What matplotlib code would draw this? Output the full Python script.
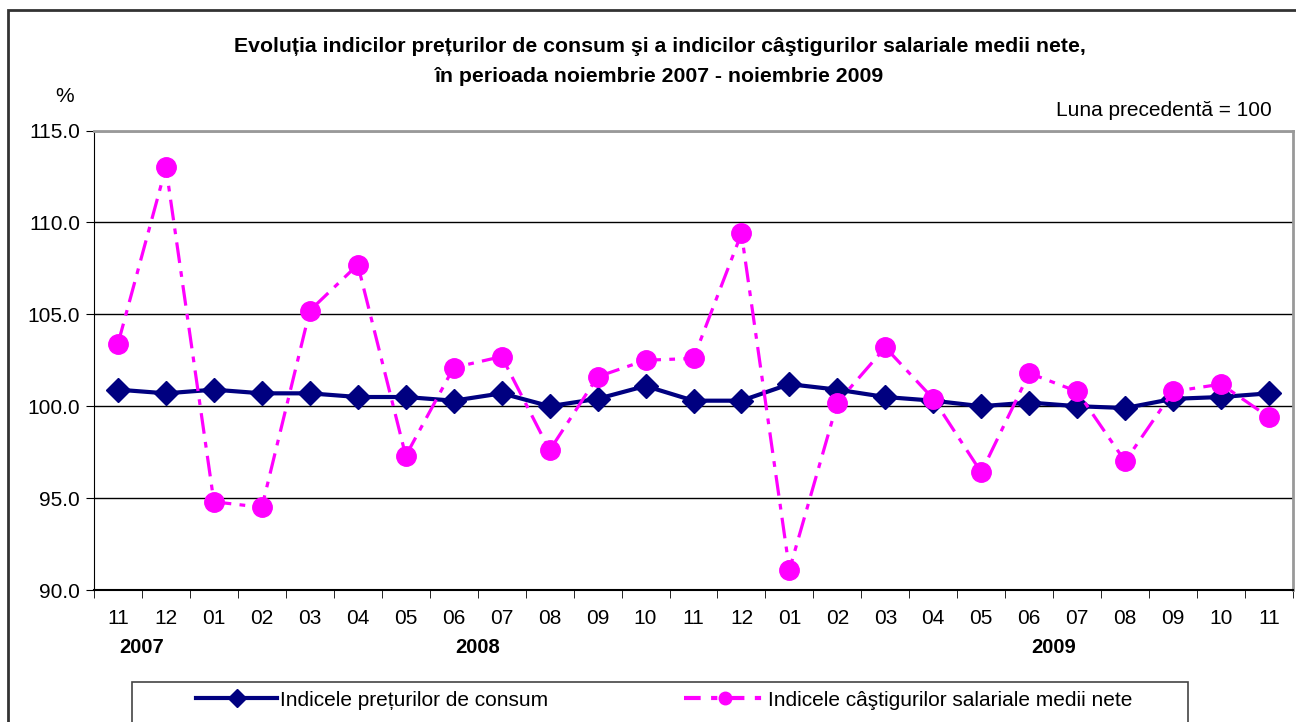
import numpy as np
import matplotlib.pyplot as plt
from matplotlib.patches import Rectangle
from matplotlib.lines import Line2D

plt.rcParams['font.family'] = ['Liberation Sans', 'DejaVu Sans']

# luni, noiembrie 2007 - noiembrie 2009
months = ['11', '12', '01', '02', '03', '04', '05', '06', '07', '08', '09', '10', '11',
          '12', '01', '02', '03', '04', '05', '06', '07', '08', '09', '10', '11']
years = ['2007', '2008', '2009']
year_pos = [0.5, 7.5, 19.5]

# indicele preturilor de consum
ipc = [100.9, 100.7, 100.9, 100.7, 100.7, 100.5, 100.5, 100.3, 100.7, 100.0, 100.4, 101.1, 100.3,
       100.3, 101.2, 100.9, 100.5, 100.3, 100.0, 100.2, 100.0, 99.9, 100.4, 100.5, 100.7]
# indicele castigurilor salariale medii nete
castig = [103.4, 113.0, 94.8, 94.5, 105.2, 107.7, 97.3, 102.1, 102.7, 97.6, 101.6, 102.5, 102.6,
          109.4, 91.1, 100.2, 103.2, 100.4, 96.4, 101.8, 100.8, 97.0, 100.8, 101.2, 99.4]

fig = plt.figure(figsize=(12.96, 7.22), dpi=100)
ax = fig.add_axes([94/1296, 1-590/722, 1199/1296, 459.5/722])

x = np.arange(len(months))
navy = '#000080'
mag = '#FF00FF'

ax.plot(x, ipc, color=navy, lw=3, marker='D', ms=12, mec=navy, zorder=3)
ax.plot(x, castig, color=mag, lw=2.3, dashes=(6.5, 2.6, 1.8, 2.6), marker='o', ms=14,
        mec=mag, zorder=4)

ax.set_xlim(-0.5, len(months) - 0.5)
ax.set_ylim(90, 115)
ax.set_yticks(np.arange(90, 115.1, 5))
ax.set_yticklabels(['%.1f' % v for v in np.arange(90, 115.1, 5)], fontsize=15)
ax.set_xticks(x)
ax.set_xticklabels(months, fontsize=15)
ax.set_xticks(np.arange(-0.5, len(months), 1), minor=True)
ax.tick_params(axis='x', which='major', length=0, pad=14)
ax.tick_params(axis='x', which='minor', length=6, direction='out', color='black')
ax.tick_params(axis='y', length=6, direction='out', pad=4)

ax.grid(axis='y', color='#000000', lw=1)
ax.set_axisbelow(True)
ax.spines['left'].set_color('black')
ax.spines['bottom'].set_color('black')
ax.spines['bottom'].set_linewidth(1.5)
ax.spines['top'].set_color('#999999')
ax.spines['right'].set_color('#999999')
ax.spines['top'].set_linewidth(2)
ax.spines['right'].set_linewidth(2)

for yr, p in zip(years, year_pos):
    ax.text(p, -0.125, yr, transform=ax.get_xaxis_transform(), ha='center', va='center',
            fontsize=14.5, fontweight='bold')

fig.text(660/1296, 1-47/722, 'Evoluția indicilor prețurilor de consum şi a indicilor câştigurilor salariale medii nete,',
         ha='center', va='center', fontsize=15.3, fontweight='bold')
fig.text(660/1296, 1-77/722, 'în perioada noiembrie 2007 - noiembrie 2009',
         ha='center', va='center', fontsize=15.3, fontweight='bold')
fig.text(65/1296, 1-97/722, '%', ha='center', va='center', fontsize=15)
fig.text(1272/1296, 1-110/722, 'Luna precedentă = 100', ha='right', va='center', fontsize=15)

# chenar exterior
fig.patches.append(Rectangle((8/1296, -0.1), 1.2, 1 - 10/722 + 0.1, transform=fig.transFigure,
                             fill=False, ec='#333333', lw=2))
# chenar legenda
fig.patches.append(Rectangle((132/1296, -0.1), (1188-132)/1296, 1 - 682/722 + 0.1,
                             transform=fig.transFigure, fill=False, ec='#444444', lw=1.2))

h1 = Line2D([], [], color=navy, lw=3, marker='D', ms=9)
h2 = Line2D([], [], color=mag, lw=3, dashes=(4, 2.5, 1.5, 2.5), marker='o', ms=9)
leg = fig.legend([h1, h2], ['Indicele prețurilor de consum', 'Indicele câştigurilor salariale medii nete'],
                 loc='center left', bbox_to_anchor=(196/1296, 1-700/722),
                 ncol=2, fontsize=15, handlelength=3.9, handletextpad=0.15,
                 frameon=False, borderaxespad=0, borderpad=0, columnspacing=6.5)

fig.savefig('out.png', dpi=100)
